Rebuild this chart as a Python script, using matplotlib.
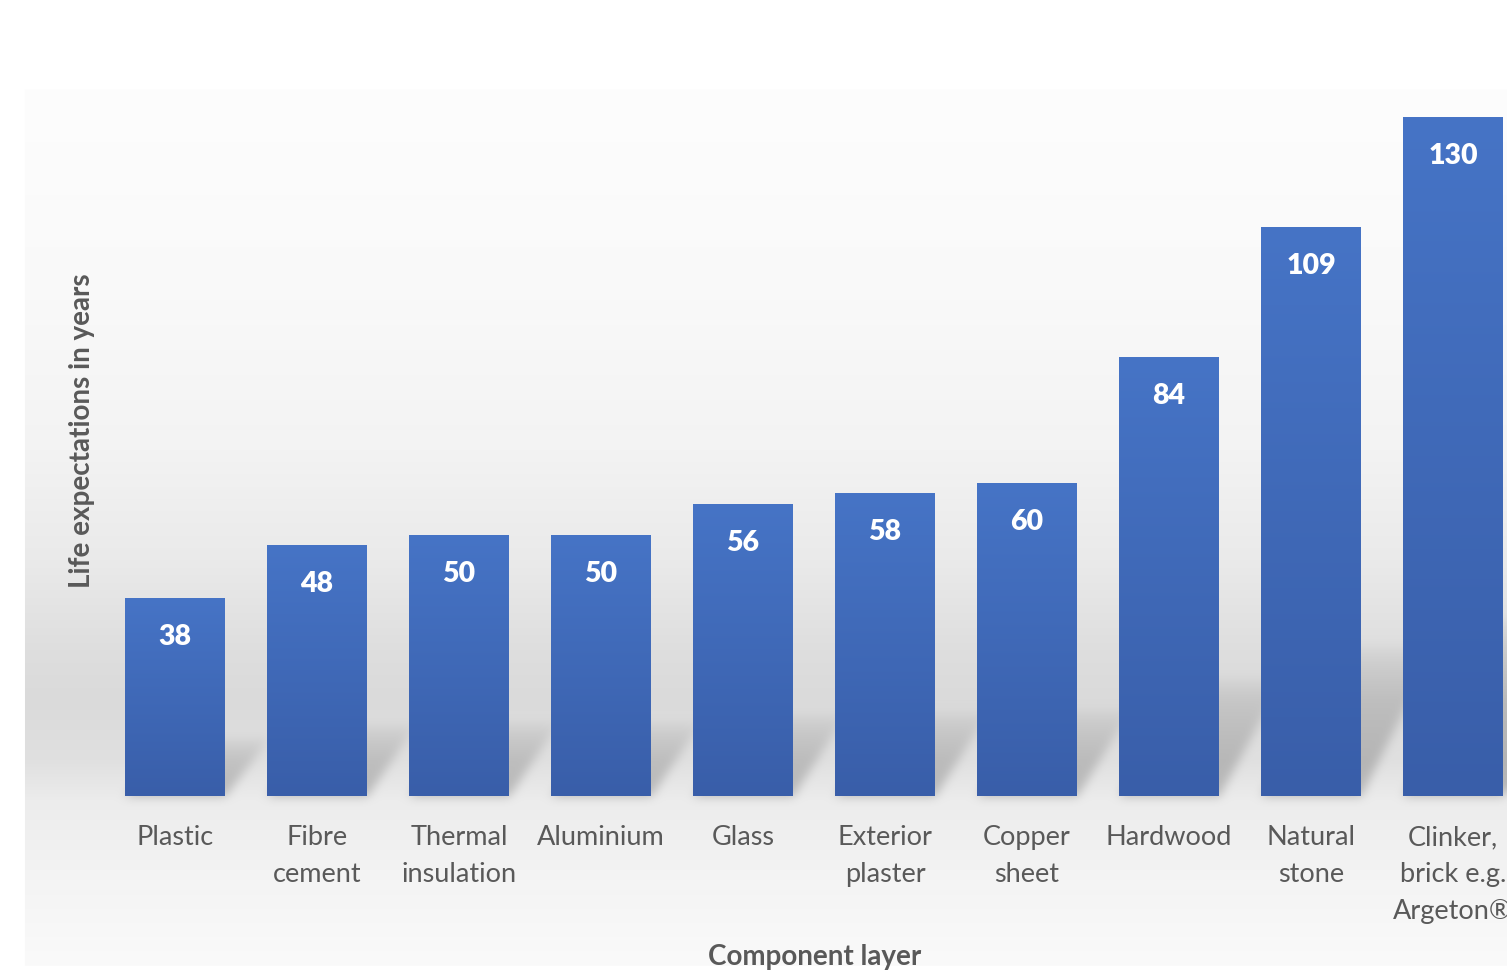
import matplotlib.pyplot as plt
import numpy as np

# Chart data
categories = ['Plastic', 'Fibre\ncement', 'Thermal\ninsulation', 'Aluminium', 'Glass',
              'Exterior\nplaster', 'Copper\nsheet', 'Hardwood', 'Natural\nstone',
              'Clinker,\nbrick e.g.\nArgeton®']
life_years = [38, 48, 50, 50, 56, 58, 60, 84, 109, 130]

W, H = 1507, 972
TEXT = '#595959'
FONT = 'Lato'

plt.rcParams['font.family'] = [FONT, 'DejaVu Sans']

fig = plt.figure(figsize=(W / 100, H / 100), dpi=100)

# background axes (gradient panel + bar shadows), drawn later
bg = fig.add_axes([0, 0, 1, 1], zorder=0)
bg.axis('off')

ax = fig.add_axes([25 / W, 176 / H, 1482 / W, 706 / H], zorder=1)
ax.set_facecolor('none')
ax.set_xlim(-1.056, 9.38)
ax.set_ylim(0, 135.17)

x = np.arange(len(categories))
bar_w = 0.704
bars = ax.bar(x, life_years, width=bar_w, color='#4170c0', zorder=2)

# vertical gradient inside each bar
grad = np.linspace(0, 1, 256).reshape(-1, 1)
top_c = np.array([0x46, 0x74, 0xc6]) / 255
bot_c = np.array([0x39, 0x5e, 0xa9]) / 255
grad_rgb = top_c * (1 - grad[..., None]) + bot_c * grad[..., None]
for b in bars:
    xl, h = b.get_x(), b.get_height()
    im = ax.imshow(grad_rgb, extent=[xl, xl + b.get_width(), 0, h],
                   aspect='auto', origin='upper', zorder=3, interpolation='bilinear')
    im.set_clip_path(b)
ax.set_xlim(-1.056, 9.38)
ax.set_ylim(0, 135.17)

for xi, v in zip(x, life_years):
    ax.annotate(str(v), (xi, v), xytext=(0, -39), textcoords='offset pixels',
                ha='center', va='center', color='white', fontsize=20.5,
                fontweight='heavy', zorder=4)

ax.set_xticks(x)
ax.set_xticklabels(categories, fontsize=19.5, color=TEXT, linespacing=1.6)
ax.tick_params(axis='x', length=0, pad=21)
ax.set_yticks([])
for s in ax.spines.values():
    s.set_visible(False)

fig.text(82 / W, 1 - 431 / H, 'Life expectations in years', rotation=90,
         ha='center', va='center', fontsize=20, fontweight='bold', color=TEXT)
fig.text(815 / W, 1 - 957 / H, 'Component layer', ha='center', va='center',
         fontsize=20, fontweight='bold', color=TEXT)

# ---- background image: gradient panel with soft shadows ----
rows = np.arange(H)[:, None].astype(float)
cols = np.arange(W)[None, :].astype(float)
stops_y = [90, 300, 450, 560, 650, 700, 760, 800, 880, 965]
stops_g = [253, 249, 243, 234, 222, 218, 224, 236, 244, 250]
gray = np.interp(rows[:, 0], stops_y, stops_g)
img = np.repeat(gray[:, None], W, axis=1)

shadow = np.zeros((H, W))
for b in bars:
    (px0, py0), (px1, py1) = ax.transData.transform(
        [(b.get_x(), 0), (b.get_x() + b.get_width(), b.get_height())])
    base = H - py0
    h_px = py1 - py0
    L = 0.25 * h_px + 10
    dx = 0.08 * h_px + 30
    u = base - rows
    s = u * dx / L
    xs = cols - s
    inside = (u >= 0) & (u <= L) & (xs >= px0) & (xs <= px1)
    strength = np.clip(1 - u / L, 0, 1) ** 0.6
    shadow = np.maximum(shadow, np.where(inside, strength, 0))

# gaussian blur (separable)
r = 12
k = np.exp(-0.5 * (np.arange(-r, r + 1) / 5.0) ** 2)
k /= k.sum()
padx = np.pad(shadow, ((0, 0), (r, r)), mode='edge')
tmp = sum(k[i] * padx[:, i:i + W] for i in range(2 * r + 1))
pady = np.pad(tmp, ((r, r), (0, 0)), mode='edge')
shadow = sum(k[i] * pady[i:i + H, :] for i in range(2 * r + 1))

img = img - 50 * shadow
panel = (rows >= 90) & (rows <= 965) & (cols >= 25)
img = np.where(panel, img, 255)
rgb = np.clip(np.dstack([img, img, img]) / 255, 0, 1)
bg.imshow(rgb, extent=[0, W, H, 0], aspect='auto', interpolation='bilinear')
bg.set_xlim(0, W)
bg.set_ylim(H, 0)

fig.savefig('out.png', dpi=100)
